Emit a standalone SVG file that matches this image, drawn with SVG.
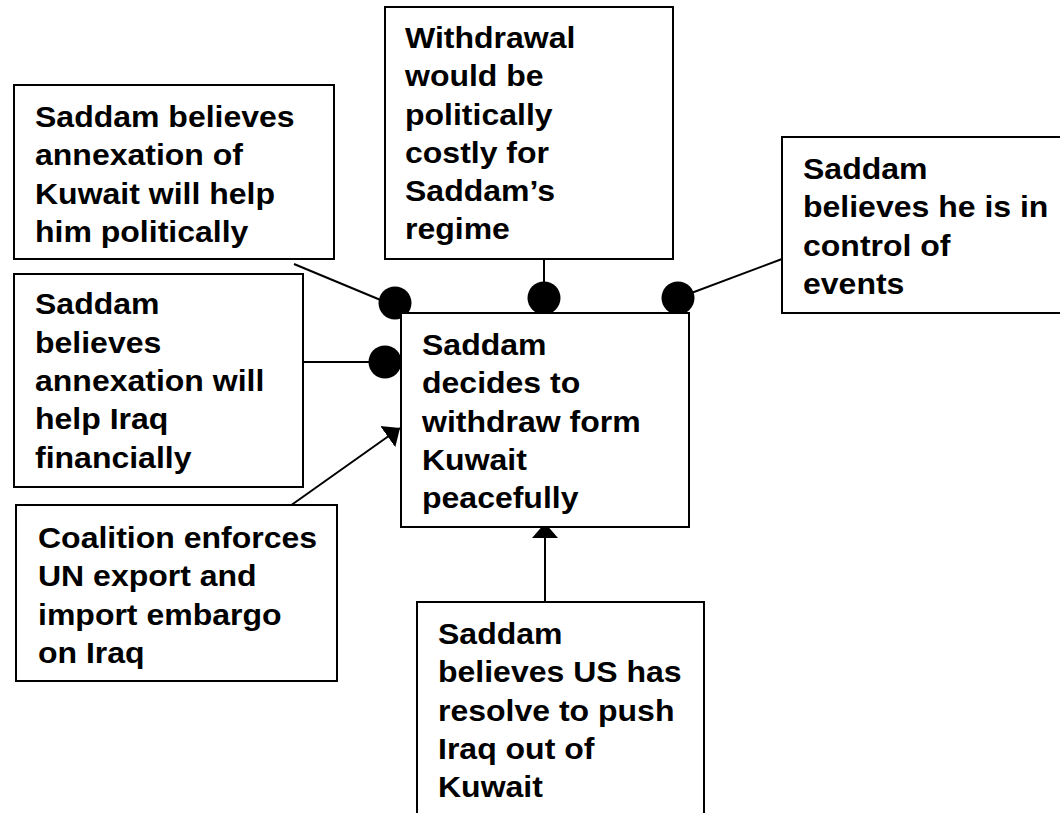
<svg xmlns="http://www.w3.org/2000/svg" width="1060" height="813" viewBox="0 0 1060 813">
  <style>
    .box { fill: #ffffff; stroke: #000000; stroke-width: 2; }
    .t { font-family: "Liberation Sans", Arial, sans-serif; font-weight: bold; font-size: 29.5px; fill: #000000; }
    .edge { stroke: #000000; stroke-width: 2; fill: none; }
    .dot { fill: #000000; }
  </style>
  <defs>
    <marker id="arrow" markerUnits="userSpaceOnUse" viewBox="0 -14 15 28" refX="15" refY="0" markerWidth="15" markerHeight="28" orient="auto">
      <path d="M0,-13 L15,0 L0,13 z" fill="#000000"/>
    </marker>
  </defs>
  <rect width="1060" height="813" fill="#ffffff"/>

  <!-- connectors -->
  <g id="connectors">
    <path class="edge" d="M294,264 L407,311"/>
    <circle class="dot" cx="395" cy="303" r="16.5"/>
    <path class="edge" d="M544,259 L544,298"/>
    <circle class="dot" cx="544" cy="298" r="16.5"/>
    <path class="edge" d="M782,259 L678,298"/>
    <circle class="dot" cx="678" cy="298" r="16.5"/>
    <path class="edge" d="M303,362 L385,362"/>
    <circle class="dot" cx="385" cy="362" r="16.5"/>
    <path class="edge" d="M290,506 L400,428" marker-end="url(#arrow)"/>
    <path class="edge" d="M545,602 L545,523" marker-end="url(#arrow)"/>
  </g>

  <g id="node-politically">
    <rect class="box" x="14" y="85" width="320" height="174"/>
    <text class="t" transform="translate(35,0) scale(1.085,1)">
      <tspan x="0" y="127">Saddam believes</tspan>
      <tspan x="0" y="165.3">annexation of</tspan>
      <tspan x="0" y="203.6">Kuwait will help</tspan>
      <tspan x="0" y="241.9">him politically</tspan>
    </text>
  </g>

  <g id="node-costly">
    <rect class="box" x="385" y="7" width="288" height="252"/>
    <text class="t" transform="translate(405,0) scale(1.085,1)">
      <tspan x="0" y="48">Withdrawal</tspan>
      <tspan x="0" y="86.3">would be</tspan>
      <tspan x="0" y="124.6">politically</tspan>
      <tspan x="0" y="162.9">costly for</tspan>
      <tspan x="0" y="201.2">Saddam’s</tspan>
      <tspan x="0" y="239.5">regime</tspan>
    </text>
  </g>

  <g id="node-control">
    <rect class="box" x="782" y="137" width="290" height="176"/>
    <text class="t" transform="translate(803,0) scale(1.085,1)">
      <tspan x="0" y="179">Saddam</tspan>
      <tspan x="0" y="217.3">believes he is in</tspan>
      <tspan x="0" y="255.6">control of</tspan>
      <tspan x="0" y="293.9">events</tspan>
    </text>
  </g>

  <g id="node-financially">
    <rect class="box" x="14" y="274" width="289" height="213"/>
    <text class="t" transform="translate(35,0) scale(1.085,1)">
      <tspan x="0" y="314.5">Saddam</tspan>
      <tspan x="0" y="352.8">believes</tspan>
      <tspan x="0" y="391.1">annexation will</tspan>
      <tspan x="0" y="429.4">help Iraq</tspan>
      <tspan x="0" y="467.7">financially</tspan>
    </text>
  </g>

  <g id="node-withdraw">
    <rect class="box" x="401" y="313" width="288" height="214"/>
    <text class="t" transform="translate(422,0) scale(1.085,1)">
      <tspan x="0" y="355">Saddam</tspan>
      <tspan x="0" y="393.3">decides to</tspan>
      <tspan x="0" y="431.6">withdraw form</tspan>
      <tspan x="0" y="469.9">Kuwait</tspan>
      <tspan x="0" y="508.2">peacefully</tspan>
    </text>
  </g>

  <g id="node-embargo">
    <rect class="box" x="16" y="505" width="321" height="176"/>
    <text class="t" transform="translate(38,0) scale(1.085,1)">
      <tspan x="0" y="548">Coalition enforces</tspan>
      <tspan x="0" y="586.3">UN export and</tspan>
      <tspan x="0" y="624.6">import embargo</tspan>
      <tspan x="0" y="662.9">on Iraq</tspan>
    </text>
  </g>

  <g id="node-resolve">
    <rect class="box" x="417" y="602" width="287" height="220"/>
    <text class="t" transform="translate(438,0) scale(1.085,1)">
      <tspan x="0" y="644">Saddam</tspan>
      <tspan x="0" y="682.3">believes US has</tspan>
      <tspan x="0" y="720.6">resolve to push</tspan>
      <tspan x="0" y="758.9">Iraq out of</tspan>
      <tspan x="0" y="797.2">Kuwait</tspan>
    </text>
  </g>
</svg>
